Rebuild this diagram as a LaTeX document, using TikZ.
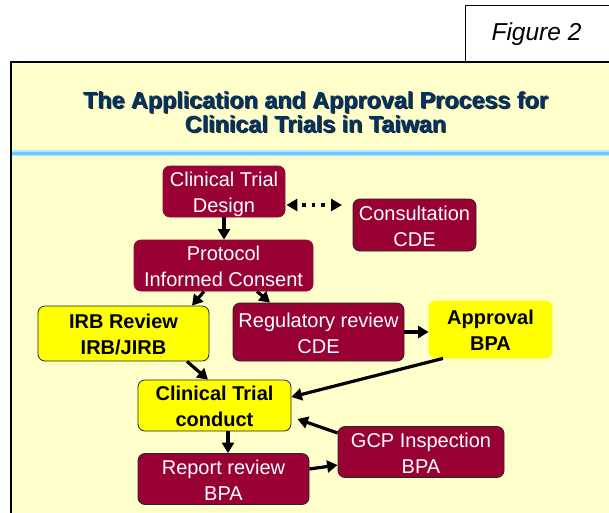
\documentclass[tikz,border=0pt]{standalone}
\usepackage{fontspec}
\setmainfont{Liberation Sans}
\usetikzlibrary{arrows.meta}
\definecolor{boxred}{HTML}{990033}
\definecolor{boxyel}{HTML}{FFFF00}
\definecolor{bgyel}{HTML}{FFFFCC}
\definecolor{titleblue}{HTML}{003366}
\definecolor{rulecol}{HTML}{66CCFF}
\definecolor{rulelight}{HTML}{B3E6FF}
\newcommand\bxs{\rule[-4.5pt]{0pt}{25pt}}
\begin{document}
\begin{tikzpicture}[x=1pt,y=-1pt,
  basebox/.style={rounded corners=7pt, align=center, inner sep=0pt, font=\fontsize{20}{23.5}\selectfont},
  redbox/.style={basebox, fill=boxred, draw=black!85, line width=0.8pt, text=white},
  redplain/.style={basebox, fill=boxred, draw=boxred, line width=0.8pt, text=white},
  yelbox/.style={basebox, fill=boxyel, draw=black!85, line width=0.8pt, text=black, font=\fontsize{20}{23.5}\selectfont\bfseries},
  yelplain/.style={basebox, fill=boxyel, draw=boxyel, line width=0.8pt, text=black, font=\fontsize{20}{23.5}\selectfont\bfseries},
  arr/.style={line width=3.2pt, -{Triangle[length=10.5pt,width=12pt]}},
  titletext/.style={anchor=base, inner sep=0pt, font=\fontsize{23.3}{24}\selectfont\bfseries}
]
\useasboundingbox (0,0) rectangle (609,512);
\fill[white] (0,0) rectangle (609,512);
% figure label box
\draw[line width=1pt, fill=white] (465,5) rectangle (615,62);
\node[anchor=base, inner sep=0pt, font=\fontsize{24.5}{26}\selectfont\itshape] (figlabel) at (536.5,40.5) {Figure 2};
% main frame
\draw[line width=1.6pt, fill=bgyel] (11,62) rectangle (620,525);
% title
\node[titletext, text=black!85] (title1s) at (316.8,109.3) {The Application and Approval Process for};
\node[titletext, text=black!85] (title2s) at (316.8,133.3) {Clinical Trials in Taiwan};
\node[titletext, text=titleblue] (title1) at (315.5,108) {The Application and Approval Process for};
\node[titletext, text=titleblue] (title2) at (315.5,132) {Clinical Trials in Taiwan};
% rule
\draw[rulelight, line width=5.5pt] (11.8,153) -- (609,153);
\draw[rulecol, line width=3.2pt] (11.8,153.5) -- (609,153.5);
% boxes
\node[redplain, minimum width=122pt, minimum height=49pt] (ctd) at (224,191.5) {\bxs Clinical Trial\\Design\bxs};
\node[redbox, minimum width=123pt, minimum height=52pt] (cons) at (414.5,225) {\bxs Consultation\\CDE\bxs};
\node[redplain, minimum width=179pt, minimum height=49pt] (prot) at (223.5,265.5) {\bxs Protocol\\Informed Consent\bxs};
\node[yelbox, minimum width=171pt, minimum height=55pt] (irb) at (123.5,333.5) {\bxs IRB Review\\IRB/JIRB\bxs};
\node[redbox, minimum width=171pt, minimum height=58pt] (reg) at (318.5,332) {\bxs Regulatory review\\CDE\bxs};
\node[yelplain, minimum width=123pt, minimum height=57pt] (appr) at (490.5,329.5) {\bxs Approval\\BPA\bxs};
\node[yelbox, minimum width=153pt, minimum height=51pt] (ctc) at (214.5,405.5) {\bxs Clinical Trial\\conduct\bxs};
\node[redbox, minimum width=171pt, minimum height=50pt] (rep) at (223.5,479) {\bxs Report review\\BPA\bxs};
\node[redbox, minimum width=166pt, minimum height=50pt] (gcp) at (421,452) {\bxs GCP Inspection\\BPA\bxs};
% connectors
\coordinate (consend) at (342,205);
\draw[line width=3.5pt, {Triangle[length=11pt,width=12pt]}-{Triangle[length=11pt,width=12pt]}, dash pattern=on 3.5pt off 6pt, dash phase=4pt]
  ([xshift=1pt,yshift=-13.5pt]ctd.east) -- (consend);
\draw[arr] (ctd.south) -- (ctd.south |- prot.north);
\draw[arr] ([xshift=-19.5pt]prot.south) -- ([xshift=68.5pt]irb.north);
\draw[arr] ([xshift=33.5pt]prot.south) -- ([xshift=-48.5pt]reg.north);
\draw[arr] (reg.east) -- (reg.east -| appr.west);
\draw[arr] ([xshift=63.5pt]irb.south) -- ([xshift=-6.5pt]ctc.north);
\draw[arr] ([xshift=-47.5pt]appr.south) -- ([yshift=8.5pt]ctc.east);
\draw[arr] ([yshift=19pt]gcp.west) -- ([shift={(6pt,-13.5pt)}]ctc.east);
\draw[arr] ([xshift=13.5pt]ctc.south) -- ([xshift=13.5pt]ctc.south |- rep.north);
\draw[arr] ([yshift=10pt]rep.east) -- ([yshift=-13pt]gcp.west);
\end{tikzpicture}
\end{document}
